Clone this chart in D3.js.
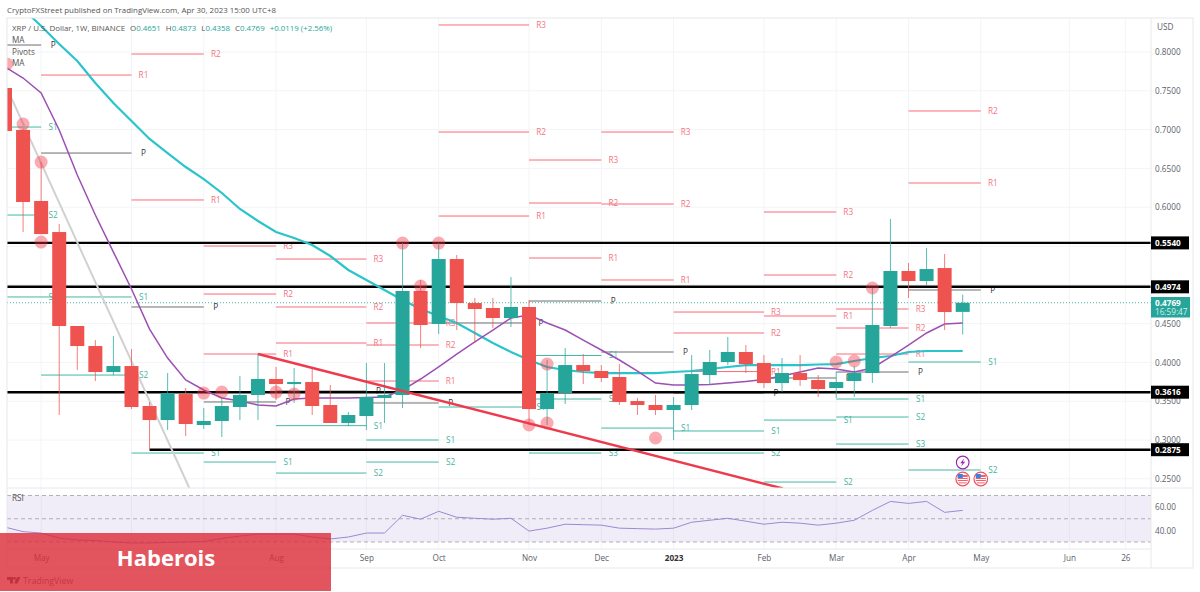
<!DOCTYPE html>
<html lang="en">
<head>
<meta charset="utf-8">
<title>XRP / U.S. Dollar, 1W</title>
<script src="https://cdn.jsdelivr.net/npm/d3@7"></script>
<style>
html, body { margin: 0; padding: 0; background: #fff; overflow: hidden; }
text { font-family: "Open Sans", sans-serif; }
</style>
</head>
<body>
<svg id="chart" width="1200" height="592"></svg>
<script>
// weekly candles, one entry per week
var candleOpen = [.7536,.6995,.6080,.5680,.4469,.4211,.3876,.3953,.3438,.3257,.3592,.3193,.3245,.3425,.3580,.3786,.3721,.3747,.3451,.3219,.3309,.3541,.3580,.4920,.4495,.5332,.4765,.4701,.4572,.4714,.3399,.3605,.3966,.3889,.3812,.3502,.3451,.3386,.3451,.3837,.4005,.4134,.3992,.3734,.3863,.3773,.3670,.3760,.3863,.4469,.5178,.5049,.5216,.4651];
var candleHigh = [.7574,.7020,.6582,.5783,.4469,.4288,.4340,.4172,.3489,.3863,.3670,.3412,.3554,.3825,.4108,.3941,.3928,.3928,.3709,.3361,.3992,.3992,.5538,.5062,.5538,.5384,.4830,.4830,.5100,.4804,.4031,.4185,.4108,.3966,.3979,.3541,.3580,.3554,.4095,.4160,.4327,.4224,.4095,.4057,.4095,.3837,.3876,.3953,.4959,.5848,.5281,.5474,.5397,.4873];
var candleLow = [.6943,.5680,.5654,.3322,.3902,.3760,.3837,.3399,.2871,.3129,.3051,.3142,.3039,.3257,.3257,.3515,.3477,.3322,.3219,.3180,.3129,.3219,.3412,.4185,.4366,.4417,.4250,.4443,.4456,.3193,.3193,.3464,.3721,.3747,.3451,.3322,.3322,.3000,.3386,.3709,.3966,.3863,.3670,.3618,.3696,.3554,.3541,.3554,.3734,.4443,.4830,.4997,.4417,.4358];
var candleClose = [.6982,.6067,.5654,.4469,.4211,.3876,.3953,.3425,.3257,.3605,.3206,.3245,.3438,.3580,.3786,.3721,.3747,.3438,.3219,.3322,.3554,.3580,.4920,.4482,.5332,.4765,.4688,.4572,.4714,.3399,.3605,.3966,.3889,.3799,.3489,.3451,.3386,.3451,.3850,.4005,.4134,.3979,.3734,.3863,.3773,.3657,.3747,.3863,.4482,.5178,.5049,.5203,.4649,.4769];

var maTeal = [null,.8554,.8335,.8103,.7884,.7600,.7343,.7111,.6879,.6698,.6518,.6363,.6183,.5977,.5822,.5680,.5603,.5513,.5371,.5191,.5062,.4933,.4804,.4688,.4598,.4508,.4379,.4250,.4134,.4031,.3941,.3902,.3876,.3863,.3863,.3863,.3863,.3876,.3889,.3915,.3941,.3966,.3966,.3966,.3966,.3973,.3979,.4018,.4057,.4082,.4134,.4147,.4147,.4147];
var maPurple = [.7807,.7665,.7472,.6995,.6415,.5899,.5422,.4946,.4430,.4056,.3773,.3644,.3541,.3502,.3451,.3438,.3528,.3541,.3541,.3541,.3547,.3554,.3644,.3786,.3941,.4108,.4263,.4417,.4572,.4611,.4508,.4417,.4288,.4160,.4031,.3889,.3734,.3709,.3709,.3715,.3734,.3754,.3779,.3824,.3876,.3928,.3915,.3876,.3928,.4070,.4224,.4379,.4495,.4508];
var rsiValues = [42.8,38.9,37.7,33.4,31.7,31.3,30.0,29.1,29.1,29.6,30.0,30.4,33.0,35.1,36.8,36.8,36.8,34.3,32.6,34.3,37.7,37.7,53.0,49.6,56.4,51.3,50.4,49.6,50.4,39.4,41.9,45.3,44.9,44.5,41.9,41.5,41.1,41.9,47.0,48.7,50.4,47.9,45.3,47.0,46.2,44.5,46.2,48.7,57.2,64.9,63.2,64.9,55.5,57.2];

// monthly pivot levels, week where each month starts + one value per month
var pivotWeeks = [0,2,7,11,15,20,24,29,33,37,42,46,50,54];
var pivotP = [.8090,.6698,.4714,.3490,.3631,.3477,.4508,.4791,.4134,.3605,.3799,.3876,.4933];
var pivotR1 = [null,.7703,.6093,.4108,.4250,.3760,.5886,.5345,.5062,.3882,.4598,.4108,.6312];
var pivotR2 = [null,null,.7974,.4881,.4714,.4224,.6969,.6054,.6041,.4379,.5126,.4443,.7240];
var pivotR3 = [null,null,null,.5500,.5332,.4508,.8348,.6608,.6969,.4649,.5938,.4688,null];
var pivotS1 = [.7033,.4843,.2832,.2716,.3185,.3000,.3425,.4089,.3154,.3116,.3257,.3528,.4005];
var pivotS2 = [.5899,.3837,null,null,.2574,.2716,null,.3528,null,.2832,.2458,.3296,.2613];
var pivotS3 = [.4843,null,null,null,null,null,null,.2832,null,null,null,.2948,null];

var supportLevels = [.5540,.4974,.3616,.2875];
var supportStart = [0,0,0,8];
var lastPrice = .4769;

// hand drawn trend lines: week / price
var trendWeeks = [14,43.05];
var trendPrices = [.4108,.2375];
var greyWeeks = [0.1,10.2];
var greyPrices = [.7536,.2381];

// the pink markers
var markerWeeks = [0.1,1,2,2,11,12,15,16,22,23,24,29,30,30,36,46,47,48];
var markerPrices = [.7845,.7072,.6582,.5551,.3605,.3618,.3618,.3592,.5538,.4984,.5538,.3193,.3219,.3979,.3026,.4005,.4018,.4959];

var priceTicks = [.8,.75,.7,.65,.6,.55,.5,.45,.4,.35,.3,.25];
var priceLabels = [.8,.75,.7,.65,.6,.45,.4,.35,.3,.25];
var rsiTicks = [60,40];
var timeWeeks = [2,15,20,24,29,33,37,42,46,50,54,58.9,62];
var timeLabels = ["May","Aug","Sep","Oct","Nov","Dec","2023","Feb","Mar","Apr","May","Jun","26"];
var gridWeeks = [2,7,11,15,20,24,29,33,37,42,46,50,54,58.9,62];

var green = "#26a69a", red = "#ef5350";
var left = 7, right = 1151, frameRight = 1193, top_ = 18, paneBottom = 488, rsiBottom = 549, bottom = 568;
var small = 8.2;

var svg = d3.select("#chart");
var x = d3.scaleLinear().domain([0,62]).range([5,5 + 18.07 * 62]);
var y = d3.scaleLinear().domain([.25,.8]).range([478.8,52]);
var yRsi = d3.scaleLinear().domain([30,70]).range([542,495.5]);

var defs = svg.append("defs");
defs.append("clipPath").attr("id","mainClip").append("rect")
    .attr("x",left).attr("y",top_).attr("width",right - left).attr("height",paneBottom - top_);
defs.append("clipPath").attr("id","mainClip2").append("rect")
    .attr("x",left).attr("y",paneBottom).attr("width",right - left).attr("height",rsiBottom - paneBottom);

// frame + grid
var grid = svg.append("g");
grid.selectAll("line.v").data(gridWeeks).enter().append("line")
    .attr("x1",function(d){ return x(d); }).attr("x2",function(d){ return x(d); })
    .attr("y1",top_).attr("y2",rsiBottom).attr("stroke","#f3f4f6");
grid.selectAll("line.h").data(priceTicks).enter().append("line")
    .attr("x1",left).attr("x2",right)
    .attr("y1",function(d){ return y(d); }).attr("y2",function(d){ return y(d); })
    .attr("stroke","#f3f4f6");

// rsi band
svg.append("rect").attr("x",left).attr("y",yRsi(70)).attr("width",right - left)
    .attr("height",yRsi(30) - yRsi(70)).attr("fill","#7e57c2").attr("opacity",.11);
[70,50,30].forEach(function(v){
    svg.append("line").attr("x1",left).attr("x2",right).attr("y1",yRsi(v)).attr("y2",yRsi(v))
        .attr("stroke","#8a8d96").attr("stroke-dasharray","4 3").attr("opacity",.65);
});
svg.append("path").datum(rsiValues)
    .attr("d",d3.line().x(function(d,i){ return x(i); }).y(function(d){ return yRsi(d); }))
    .attr("fill","none").attr("stroke","#9a8ad2").attr("stroke-width",1)
    .attr("clip-path","url(#mainClip2)");
svg.append("text").attr("x",12).attr("y",501).attr("font-size",small).attr("fill","#555").text("RSI");

var pane = svg.append("g").attr("clip-path","url(#mainClip)");

// pivots
var levels = [
    {name:"R3",vals:pivotR3,line:"#f7525f",txt:"#f4747f"},
    {name:"R2",vals:pivotR2,line:"#f7525f",txt:"#f4747f"},
    {name:"R1",vals:pivotR1,line:"#f7525f",txt:"#f4747f"},
    {name:"P",vals:pivotP,line:"#555555",txt:"#333333"},
    {name:"S1",vals:pivotS1,line:"#22ab94",txt:"#45b3a1"},
    {name:"S2",vals:pivotS2,line:"#22ab94",txt:"#45b3a1"},
    {name:"S3",vals:pivotS3,line:"#22ab94",txt:"#45b3a1"}
];
var segs = [];
levels.forEach(function(l){
    l.vals.forEach(function(v,m){
        if (v !== null) segs.push({name:l.name,v:v,m:m,line:l.line,txt:l.txt});
    });
});
pane.selectAll("line.pivot").data(segs).enter().append("line")
    .attr("x1",function(d){ return x(pivotWeeks[d.m]); })
    .attr("x2",function(d){ return x(pivotWeeks[d.m + 1]); })
    .attr("y1",function(d){ return y(d.v); }).attr("y2",function(d){ return y(d.v); })
    .attr("stroke",function(d){ return d.line; }).attr("stroke-opacity",.85);
pane.selectAll("text.pivot").data(segs).enter().append("text")
    .attr("x",function(d){ return x(pivotWeeks[d.m + 1]) + 12; })
    .attr("y",function(d){ return y(d.v) + 3; })
    .attr("text-anchor","middle").attr("font-size",small)
    .attr("fill",function(d){ return d.txt; })
    .text(function(d){ return d.name; });

// dotted last price
pane.append("line").attr("x1",left).attr("x2",right).attr("y1",y(lastPrice)).attr("y2",y(lastPrice))
    .attr("stroke",green).attr("stroke-dasharray","1 2").attr("opacity",.8);

// thick black levels
pane.selectAll("line.sup").data(supportLevels).enter().append("line")
    .attr("x1",function(d,i){ return x(supportStart[i]); }).attr("x2",right)
    .attr("y1",function(d){ return y(d); }).attr("y2",function(d){ return y(d); })
    .attr("stroke","#000").attr("stroke-width",2.4);

// averages and grey line go behind the candles
pane.append("line")
    .attr("x1",x(greyWeeks[0])).attr("y1",y(greyPrices[0]))
    .attr("x2",x(greyWeeks[1])).attr("y2",y(greyPrices[1]))
    .attr("stroke","#d1d1d1").attr("stroke-width",2);
var maLine = d3.line().defined(function(d){ return d !== null; })
    .x(function(d,i){ return x(i); }).y(function(d){ return y(d); });
pane.append("path").datum(maTeal).attr("d",maLine).attr("fill","none")
    .attr("stroke","#2bc4cb").attr("stroke-width",2.2);
pane.append("path").datum(maPurple).attr("d",maLine).attr("fill","none")
    .attr("stroke","#9c4fb4").attr("stroke-width",1.5);

// candles
var candles = pane.selectAll("g.candle").data(candleOpen).enter().append("g");
candles.append("line")
    .attr("x1",function(d,i){ return x(i); }).attr("x2",function(d,i){ return x(i); })
    .attr("y1",function(d,i){ return y(candleHigh[i]); })
    .attr("y2",function(d,i){ return y(candleLow[i]); })
    .attr("stroke",function(d,i){ return candleClose[i] >= d ? green : red; })
    .attr("stroke-opacity",.75);
candles.append("rect")
    .attr("x",function(d,i){ return x(i) - 7; }).attr("width",14)
    .attr("y",function(d,i){ return y(Math.max(d,candleClose[i])); })
    .attr("height",function(d,i){ return Math.abs(y(d) - y(candleClose[i])); })
    .attr("fill",function(d,i){ return candleClose[i] >= d ? green : red; });

// trend line and markers on top
pane.append("line")
    .attr("x1",x(trendWeeks[0])).attr("y1",y(trendPrices[0]))
    .attr("x2",x(trendWeeks[1])).attr("y2",y(trendPrices[1]))
    .attr("stroke","#ee3a4c").attr("stroke-width",2.4);
pane.selectAll("circle").data(markerPrices).enter().append("circle")
    .attr("cx",function(d,i){ return x(markerWeeks[i]); })
    .attr("cy",function(d){ return y(d); })
    .attr("r",6.5).attr("fill","#f23645").attr("fill-opacity",.42);

// events
var ev = svg.append("g");
ev.append("circle").attr("cx",x(53)).attr("cy",462.5).attr("r",6.3)
    .attr("fill","#fff").attr("stroke","#9c27b0").attr("stroke-width",1.2);
ev.append("path").attr("transform","translate(" + x(53) + ",462.5)")
    .attr("d","M1.5,-4L-2.5,.8H-.2L-1.5,4L2.5,-.8H.2Z").attr("fill","#9c27b0");
[53,54].forEach(function(w){
    var g = ev.append("g").attr("transform","translate(" + x(w) + ",479)");
    g.append("circle").attr("r",6.8).attr("fill","#fff").attr("stroke","#f0505f").attr("stroke-width",1.2);
    g.append("rect").attr("x",-5).attr("y",-4).attr("width",10).attr("height",6).attr("fill","#f0606a");
    g.append("rect").attr("x",-5).attr("y",-2).attr("width",10).attr("height",1).attr("fill","#fff");
    g.append("rect").attr("x",-5).attr("y",0).attr("width",10).attr("height",1).attr("fill","#fff");
    g.append("rect").attr("x",-5).attr("y",-5).attr("width",5).attr("height",4).attr("fill","#3f7fe0");
    g.append("rect").attr("x",-4).attr("y",3.4).attr("width",8).attr("height",1).attr("fill","#f0606a");
});

// frame lines
var frame = svg.append("g").attr("fill","none").attr("stroke","#e6e8ec");
frame.append("rect").attr("x",left).attr("y",top_).attr("width",frameRight - left).attr("height",bottom - top_);
frame.append("line").attr("x1",right).attr("x2",right).attr("y1",top_).attr("y2",bottom);
frame.append("line").attr("x1",left).attr("x2",frameRight).attr("y1",paneBottom).attr("y2",paneBottom);
frame.append("line").attr("x1",left).attr("x2",right).attr("y1",rsiBottom).attr("y2",rsiBottom);

// axes
var fmtPrice = d3.format(".4f");
var priceAxis = svg.append("g").attr("transform","translate(" + right + ",0)")
    .call(d3.axisRight(y).tickValues(priceLabels).tickFormat(fmtPrice).tickSize(0).tickPadding(4));
var rsiAxis = svg.append("g").attr("transform","translate(" + right + ",0)")
    .call(d3.axisRight(yRsi).tickValues(rsiTicks).tickFormat(d3.format(".2f")).tickSize(0).tickPadding(4));
var timeAxis = svg.append("g").attr("transform","translate(0,552)")
    .call(d3.axisBottom(x).tickValues(timeWeeks)
        .tickFormat(function(d,i){ return timeLabels[i]; }).tickSize(0).tickPadding(3));
[priceAxis,rsiAxis,timeAxis].forEach(function(a){
    a.select(".domain").remove();
    a.selectAll("text").attr("font-size",small).attr("fill","#5d606b").attr("font-family","'Open Sans', sans-serif");
});
timeAxis.selectAll("text").filter(function(d,i){ return timeLabels[i] === "2023"; })
    .attr("font-weight","bold").attr("fill","#333");
svg.append("text").attr("x",1157).attr("y",30).attr("font-size",small).attr("fill","#5d606b").text("USD");

// price tags
var tags = svg.selectAll("g.tag").data(supportLevels).enter().append("g");
tags.append("rect").attr("x",right).attr("width",38).attr("height",13)
    .attr("y",function(d){ return y(d) - 6.5; }).attr("fill","#000");
tags.append("text").attr("x",right + 4).attr("y",function(d){ return y(d) + 3; })
    .attr("font-size",small).attr("font-weight","bold").attr("fill","#fff").text(fmtPrice);
svg.append("rect").attr("x",right).attr("y",297).attr("width",39).attr("height",20.5).attr("fill",green);
svg.append("text").attr("x",right + 4).attr("y",306).attr("font-size",small).attr("font-weight","bold")
    .attr("fill","#fff").text(fmtPrice(lastPrice));
svg.append("text").attr("x",right + 4).attr("y",315).attr("font-size",small)
    .attr("fill","#d8f1ee").text("16:59:47");

// header and legend
svg.append("text").attr("x",7).attr("y",13).attr("font-size",7.9).attr("fill","#555")
    .text("CryptoFXStreet published on TradingView.com, Apr 30, 2023 15:00 UTC+8");
var legend = svg.append("text").attr("x",12).attr("y",31).attr("font-size",7.9).attr("fill","#555");
legend.append("tspan").text("XRP / U.S. Dollar, 1W, BINANCE");
[["O","0.4651"],["H","0.4873"],["L","0.4358"],["C","0.4769"]].forEach(function(p){
    legend.append("tspan").attr("dx",5).text(p[0]);
    legend.append("tspan").attr("fill","#26a69a").text(p[1]);
});
legend.append("tspan").attr("dx",5).attr("fill","#26a69a").text("+0.0119 (+2.56%)");
["MA","Pivots","MA"].forEach(function(t,i){
    svg.append("text").attr("x",12).attr("y",43 + i * 11.5).attr("font-size",small).attr("fill","#555").text(t);
});

// tradingview logo
var logo = svg.append("g").attr("fill","#555");
logo.append("path").attr("d","M7,577H13V583.5H10V580H7Z");
logo.append("circle").attr("cx",14.6).attr("cy",578.4).attr("r",1.4);
logo.append("path").attr("d","M17,577H20.4L17.6,583.5H14.2Z");
svg.append("text").attr("x",23).attr("y",584).attr("font-size",8.8).attr("fill","#666").text("TradingView");

// publisher banner
svg.append("rect").attr("x",0).attr("y",533).attr("width",331).attr("height",58)
    .attr("fill","#dc2b36").attr("opacity",.8);
svg.append("text").attr("x",166).attr("y",566).attr("text-anchor","middle")
    .attr("font-size",22).attr("font-weight","bold").attr("fill","#fff")
    .attr("font-family","Inter, sans-serif").text("Haberois");
</script>
</body>
</html>
